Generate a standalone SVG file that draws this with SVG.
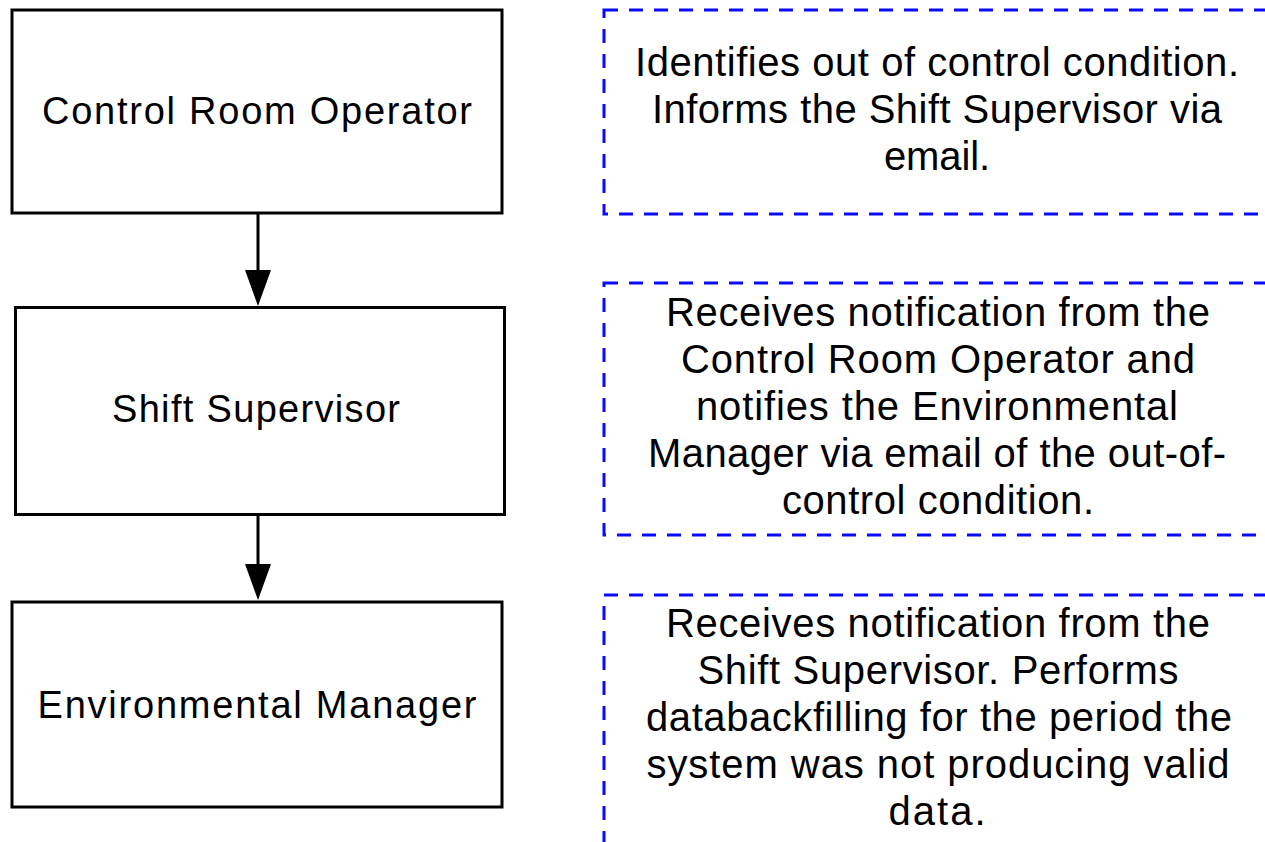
<svg xmlns="http://www.w3.org/2000/svg" width="1265" height="842" viewBox="0 0 1265 842">
  <style>
    .node { fill: #ffffff; stroke: #000000; stroke-width: 3; }
    .note { fill: none; stroke: #0a0aff; stroke-width: 3; stroke-dasharray: 14 11; }
    .label { font-family: "Liberation Sans", Arial, sans-serif; font-size: 38px; fill: #000000; text-anchor: middle; }
    .desc { font-family: "Liberation Sans", Arial, sans-serif; font-size: 40px; fill: #000000; text-anchor: middle; }
    .edge { stroke: #000000; stroke-width: 3; fill: none; }
  </style>
  <defs>
    <marker id="arrowhead" markerUnits="userSpaceOnUse" markerWidth="36" markerHeight="26" viewBox="0 0 36 26" refX="0" refY="13" orient="auto">
      <path d="M0,0 L36,13 L0,26 z" fill="#000000"/>
    </marker>
  </defs>
  <rect width="1265" height="842" fill="#ffffff"/>

  <!-- process boxes -->
  <g id="control-room-operator">
    <rect class="node" x="12" y="10" width="490" height="203"/>
    <text class="label" x="257" y="124" textLength="430">Control Room Operator</text>
  </g>
  <g id="shift-supervisor">
    <rect class="node" x="15.5" y="307.5" width="489" height="207"/>
    <text class="label" x="256" y="422" textLength="288">Shift Supervisor</text>
  </g>
  <g id="environmental-manager">
    <rect class="node" x="12" y="602" width="490" height="205"/>
    <text class="label" x="257" y="718" textLength="439">Environmental Manager</text>
  </g>

  <!-- connectors -->
  <g id="connectors">
    <line class="edge" x1="258" y1="214" x2="258" y2="270" marker-end="url(#arrowhead)"/>
    <line class="edge" x1="258" y1="515" x2="258" y2="564" marker-end="url(#arrowhead)"/>
  </g>

  <!-- role descriptions -->
  <g id="note-operator">
    <rect class="note" x="604" y="10" width="700" height="204"/>
    <text class="desc" x="937" y="76" textLength="604">Identifies out of control condition.</text>
    <text class="desc" x="937" y="123" textLength="570">Informs the Shift Supervisor via</text>
    <text class="desc" x="937" y="170" textLength="106">email.</text>
  </g>
  <g id="note-supervisor">
    <rect class="note" x="604" y="283" width="700" height="252"/>
    <text class="desc" x="938" y="326" textLength="544">Receives notification from the</text>
    <text class="desc" x="938" y="373" textLength="514">Control Room Operator and</text>
    <text class="desc" x="937" y="420" textLength="482">notifies the Environmental</text>
    <text class="desc" x="937" y="467" textLength="578">Manager via email of the out-of-</text>
    <text class="desc" x="938" y="514" textLength="312">control condition.</text>
  </g>
  <g id="note-manager">
    <rect class="note" x="604" y="595" width="700" height="300"/>
    <text class="desc" x="938" y="637" textLength="544">Receives notification from the</text>
    <text class="desc" x="938" y="684" textLength="481">Shift Supervisor. Performs</text>
    <text class="desc" x="939" y="731" textLength="586">databackfilling for the period the</text>
    <text class="desc" x="938" y="778" textLength="583">system was not producing valid</text>
    <text class="desc" x="937" y="825" textLength="97">data.</text>
  </g>
</svg>
